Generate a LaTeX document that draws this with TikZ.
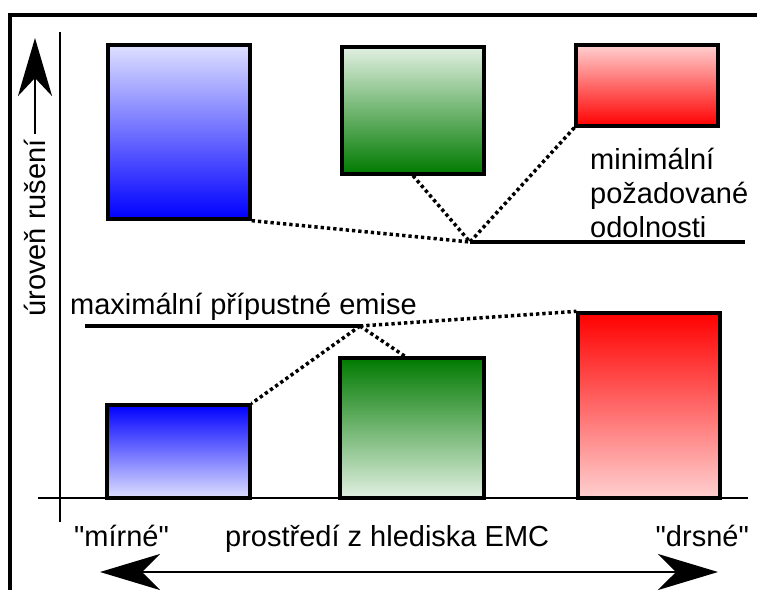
\documentclass[tikz,border=0pt]{standalone}
\usepackage{fontspec}
\setmainfont{Liberation Sans}
\newfontfamily\qfont{Liberation Sans}[Ligatures=TeXOff]
\usetikzlibrary{arrows.meta,calc}
\definecolor{bluelight}{RGB}{222,224,255}
\definecolor{bluefull}{RGB}{0,0,255}
\definecolor{greenlight}{RGB}{226,240,226}
\definecolor{greenfull}{RGB}{0,122,0}
\definecolor{redlight}{RGB}{255,208,208}
\definecolor{redfull}{RGB}{255,0,0}
\newcommand{\qd}{{\qfont\symbol{34}}}
\tikzset{
  box/.style={draw=black, line width=3.3pt, inner sep=0pt},
  lbl/.style={font=\fontsize{29}{34}\selectfont, inner sep=0pt},
  level/.style={line width=3.2pt},
  dots/.style={line width=3.5pt, dash pattern=on 3.3pt off 3pt},
  axis/.style={line width=2.3pt},
  bigarrow/.style={line width=2.8pt, -{Stealth[length=58pt, width=34pt, inset=18pt]}},
}
\begin{document}
\begin{tikzpicture}[x=1pt,y=-1pt]
\useasboundingbox (0,0) rectangle (757,590);
% frame
\draw[line width=3.3pt] (757,15) -- (10,15) -- (10,590);
% axes
\draw[axis] (60,32) -- (60,522);
\draw[axis] (38,498) -- (748,498);
% top boxes (requirements)
\node[box, minimum width=142pt, minimum height=174pt, top color=bluelight, bottom color=bluefull] (bt) at (179,132) {};
\node[box, minimum width=142pt, minimum height=127pt, top color=greenlight, bottom color=greenfull] (gt) at (413,110.5) {};
\node[box, minimum width=142pt, minimum height=81pt, top color=redlight, bottom color=redfull] (rt) at (647,85.5) {};
% bottom boxes (emissions)
\node[box, minimum width=143pt, minimum height=93pt, top color=bluefull, bottom color=bluelight] (bb) at (178.5,451.5) {};
\node[box, minimum width=144pt, minimum height=140pt, top color=greenfull, bottom color=greenlight] (gb) at (412,428) {};
\node[box, minimum width=142pt, minimum height=185pt, top color=redfull, bottom color=redlight] (rb) at (649,405.5) {};
% immunity level
\coordinate (imm) at (470,242);
\coordinate (immend) at (745,242);
\draw[level] (imm) -- (immend);
\draw[dots] (bt.south east) -- (imm);
\draw[dots] (gt.south) -- (imm);
\draw[dots] (rt.south west) -- (imm);
\node[lbl, anchor=base west, align=left] (immlbl) at (590,237) {minimální\\požadované\\odolnosti};
% emission level
\coordinate (emi) at (360,326);
\coordinate (emistart) at (85,326);
\draw[level] (emistart) -- (emi);
\draw[dots] (emi) -- (rb.north west);
\draw[dots] (emi) -- (bb.north east);
\draw[dots] (emi) -- ($(gb.north)+(-7,0)$);
\node[lbl, anchor=base west] (emilbl) at (70,314) {maximální přípustné emise};
% y axis label
\node[lbl, rotate=90, anchor=east] (ylbl) at (35,139) {úroveň rušení};
\coordinate (ytip) at (35,38);
\draw[bigarrow] ($(ylbl.east)+(0,-5)$) -- (ytip);
% x labels
\node[lbl, anchor=base west] (mild) at (74,546) {\qd mírné\qd};
\node[lbl, anchor=base west] (env) at (225,546) {prostředí z hlediska EMC};
\node[lbl, anchor=base east] (harsh) at (749,546) {\qd drsné\qd};
\coordinate (xl) at (100,572);
\coordinate (xr) at (718,572);
\draw[line width=2.8pt, {Stealth[length=60pt, width=36pt, inset=18pt]}-{Stealth[length=60pt, width=36pt, inset=18pt]}] (xl) -- (xr);
\end{tikzpicture}
\end{document}
